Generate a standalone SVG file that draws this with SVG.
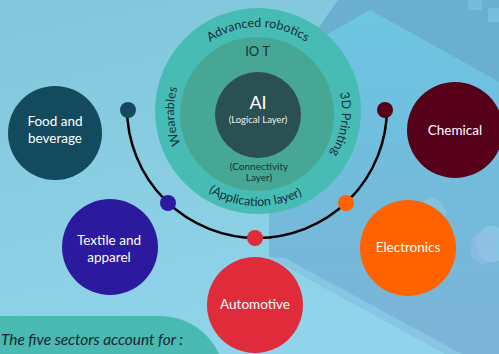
<svg xmlns="http://www.w3.org/2000/svg" width="499" height="354" viewBox="0 0 499 354">
<defs>
<linearGradient id="bg" x1="0" y1="0" x2="0.3" y2="1">
<stop offset="0" stop-color="#82c6da"/>
<stop offset="1" stop-color="#8fd4ea"/>
</linearGradient>
<linearGradient id="plane" x1="0" y1="0" x2="0" y2="1">
<stop offset="0" stop-color="#6cc6e2"/>
<stop offset="0.45" stop-color="#72bcdc"/>
<stop offset="1" stop-color="#7cb4d8"/>
</linearGradient>
<path id="ringCW" d="M258,195 A84,84 0 1 1 258,27 A84,84 0 1 1 258,195"/>
<path id="ringBottom" d="M163,111 A95,95 0 0 0 353,111"/>
</defs>
<style>
text{font-family:Lato,"Noto Sans","Liberation Sans",sans-serif}
.lbl{fill:#ffffff;font-size:13.5px;text-anchor:middle}
.ring{fill:#16303a;font-size:12.5px}
.dark{fill:#16303a;text-anchor:middle}
.dot{stroke:none}
</style>
<g id="background">
<rect x="0" y="0" width="499" height="354" fill="url(#bg)"/>
<polygon points="370,10 499,82 499,354 445,354 269,257 269,100 310,45" fill="url(#plane)"/>
<polygon points="338,0 499,0 499,82 370,10 318,40 305,47" fill="#6aaed0"/>
<polygon points="269,257 445,354 462,354 285,258" fill="#93d6ec" opacity="0.5"/>
<rect x="468" y="0" width="14" height="10" fill="#7ec4e0" opacity="0.6"/>
<rect x="488" y="8" width="11" height="14" fill="#7ec8e4" opacity="0.6"/>
<ellipse cx="432" cy="214" rx="14" ry="16" fill="#9cd0e8" opacity="0.35"/>
<ellipse cx="492" cy="244" rx="16" ry="18" fill="#a0d4ec" opacity="0.45"/>
<ellipse cx="483" cy="248" rx="13" ry="16" fill="#94bce6" opacity="0.6"/>
</g>
<g id="connectors">
<path d="M127,108 A130,130 0 0 0 387,108" fill="none" stroke="#000000" stroke-width="2.5"/>
<circle class="dot" cx="128" cy="110" r="8" fill="#134a5e"/>
<circle class="dot" cx="168" cy="203" r="8" fill="#2b1a9e"/>
<circle class="dot" cx="255" cy="238" r="8" fill="#e02b3a"/>
<circle class="dot" cx="346" cy="203" r="8" fill="#ff6200"/>
<circle class="dot" cx="385" cy="110" r="8" fill="#56001a"/>
</g>
<g id="core">
<circle cx="258" cy="111" r="103" fill="#47bcb4"/>
<circle cx="257" cy="114" r="77" fill="#46a795"/>
<circle cx="258" cy="115" r="43" fill="#2a5051"/>
<text class="ring"><textPath href="#ringCW" startOffset="50%" text-anchor="middle">Advanced robotics</textPath></text>
<text class="ring" font-size="12"><textPath href="#ringCW" startOffset="24%" text-anchor="middle">Wearables</textPath></text>
<text class="ring" font-size="12"><textPath href="#ringCW" startOffset="77.5%" text-anchor="middle">3D Printing</textPath></text>
<text class="ring"><textPath href="#ringBottom" startOffset="49%" text-anchor="middle">(Application layer)</textPath></text>
<text class="dark" x="257.5" y="56" font-size="13">IO T</text>
<text x="258" y="109" font-size="18" fill="#ffffff" text-anchor="middle">AI</text>
<text x="258" y="123" font-size="9.5" fill="#e8f2f0" text-anchor="middle">(Logical Layer)</text>
<text class="dark" x="259" y="170" font-size="10">(Connectivity</text>
<text class="dark" x="259" y="181" font-size="10">Layer)</text>
</g>
<g id="food">
<circle cx="55" cy="133" r="47" fill="#134a5e"/>
<text class="lbl" x="55" y="126">Food and</text>
<text class="lbl" x="55" y="143">beverage</text>
</g>
<g id="textile">
<circle cx="110" cy="247" r="48" fill="#2b1a9e"/>
<text class="lbl" x="109" y="245">Textile and</text>
<text class="lbl" x="109" y="262">apparel</text>
</g>
<g id="automotive">
<circle cx="255" cy="305" r="48" fill="#e02b3a"/>
<text class="lbl" x="255" y="309">Automotive</text>
</g>
<g id="electronics">
<circle cx="408" cy="248" r="48" fill="#ff6200"/>
<text class="lbl" x="408" y="252">Electronics</text>
</g>
<g id="chemical">
<circle cx="455" cy="130" r="48" fill="#56001a"/>
<text class="lbl" x="455" y="135">Chemical</text>
</g>
<g id="note">
<path d="M0,316 H160 A65,65 0 0 1 219,354 H0 Z" fill="#48bab2"/>
<text x="1" y="345" font-size="15" font-style="italic" fill="#16242e" textLength="182" lengthAdjust="spacingAndGlyphs">The five sectors account for :</text>
</g>
</svg>
